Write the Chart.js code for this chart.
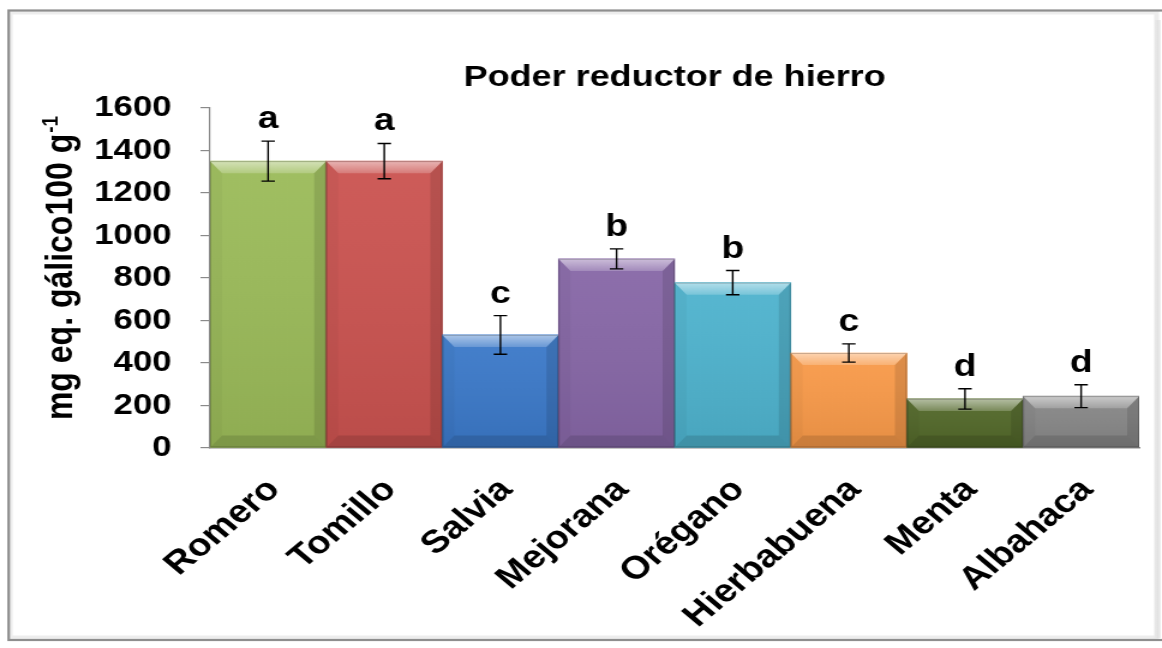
<!DOCTYPE html>
<html>
<head>
<meta charset="utf-8">
<script src="https://cdn.jsdelivr.net/npm/chart.js@4.4.1/dist/chart.umd.min.js"></script>
<style>
html,body{margin:0;padding:0;background:#fff;overflow:hidden;}
#wrap{width:968px;height:648px;transform:scaleX(1.2004132);transform-origin:0 0;}
canvas{display:block;}
</style>
</head>
<body>
<div id="wrap"><canvas id="c" width="968" height="648" style="width:968px;height:648px"></canvas></div>
<script>
// ---- data ----
const categories = ['Romero', 'Tomillo', 'Salvia', 'Mejorana', 'Orégano', 'Hierbabuena', 'Menta', 'Albahaca'];
const values = [1350, 1350, 532, 890, 778, 447, 231, 244];
const errors = [94, 83, 91, 47, 57, 43, 48, 54];
const letters = ['a', 'a', 'c', 'b', 'b', 'c', 'd', 'd'];
const yMin = 0, yMax = 1600, yStep = 200;
const chartTitle = 'Poder reductor de hierro';
const yTitleMain = 'mg eq. gálico100 g';
const yTitleSup = '-1';

// ---- style ----
const SX = 1162 / 968;
const FONT = "Arial, 'Liberation Sans', Helvetica, sans-serif";
const barColors = ['#9bbb59', '#cb5350', '#3b79c9', '#8767a7', '#4eb3ce', '#f99a49', '#526829', '#878787'];
const axisColor = '#8a8a8a';

const framePlugin = {
  id: 'frame',
  beforeDraw(chart) {
    const c = chart.ctx;
    c.save();
    c.fillStyle = '#fff';
    c.fillRect(0, 0, chart.width, chart.height);
    c.strokeStyle = 'rgba(0,0,0,0.07)';
    c.lineWidth = 4;
    c.strokeRect(8.5, 12.5, 955, 625);
    c.strokeStyle = '#8e8e8e';
    c.lineWidth = 2.2;
    c.strokeRect(7.2, 10.5, 968, 629.5);
    const g = c.createLinearGradient(961, 0, 967, 0);
    g.addColorStop(0, 'rgba(0,0,0,0)');
    g.addColorStop(1, 'rgba(0,0,0,0.08)');
    c.fillStyle = g;
    c.fillRect(961, 20, 6, 618);
    c.restore();
  }
};

const barDecor = {
  id: 'barDecor',
  afterDatasetsDraw(chart) {
    const c = chart.ctx;
    const meta = chart.getDatasetMeta(0);
    const yScale = chart.scales.y;
    c.save();
    meta.data.forEach((bar, i) => {
      const p = bar.getProps(['x', 'y', 'width', 'base'], true);
      const l = p.x - p.width / 2, r = p.x + p.width / 2, t = p.y, b = p.base;
      const bv = Math.min(12, (b - t) / 2);
      const bh = bv / SX;
      const fg = c.createLinearGradient(0, t, 0, b);
      fg.addColorStop(0, 'rgba(255,255,255,0.05)');
      fg.addColorStop(1, 'rgba(0,0,0,0.08)');
      c.fillStyle = fg;
      c.fillRect(l, t, r - l, b - t);
      // top bevel
      c.beginPath();
      c.moveTo(l, t); c.lineTo(r, t); c.lineTo(r - bh, t + bv); c.lineTo(l + bh, t + bv); c.closePath();
      const tg = c.createLinearGradient(0, t, 0, t + bv);
      tg.addColorStop(0, 'rgba(255,255,255,0.55)');
      tg.addColorStop(1, 'rgba(255,255,255,0.20)');
      c.fillStyle = tg; c.fill();
      // right bevel
      c.beginPath();
      c.moveTo(r, t); c.lineTo(r, b); c.lineTo(r - bh, b - bv); c.lineTo(r - bh, t + bv); c.closePath();
      c.fillStyle = 'rgba(0,0,0,0.11)'; c.fill();
      // left bevel
      c.beginPath();
      c.moveTo(l, t); c.lineTo(l + bh, t + bv); c.lineTo(l + bh, b - bv); c.lineTo(l, b); c.closePath();
      c.fillStyle = 'rgba(0,0,0,0.03)'; c.fill();
      // bottom bevel
      c.beginPath();
      c.moveTo(l, b); c.lineTo(r, b); c.lineTo(r - bh, b - bv); c.lineTo(l + bh, b - bv); c.closePath();
      c.fillStyle = 'rgba(0,0,0,0.12)'; c.fill();
      c.strokeStyle = 'rgba(0,0,0,0.2)';
      c.lineWidth = 1;
      c.strokeRect(l + 0.5, t + 0.5, r - l - 1, b - t - 1);
    });
    c.strokeStyle = '#000';
    c.lineWidth = 1.4;
    meta.data.forEach((bar, i) => {
      const x = bar.x;
      const yt = yScale.getPixelForValue(values[i] + errors[i]);
      const yb = yScale.getPixelForValue(values[i] - errors[i]);
      const cw = 5.6;
      c.beginPath();
      c.moveTo(x, yt); c.lineTo(x, yb);
      c.moveTo(x - cw, yt); c.lineTo(x + cw, yt);
      c.moveTo(x - cw, yb); c.lineTo(x + cw, yb);
      c.stroke();
      c.fillStyle = '#000';
      c.font = 'bold 31px ' + FONT;
      c.textAlign = 'center';
      c.textBaseline = 'alphabetic';
      c.fillText(letters[i], x, yt - 13);
    });
    c.restore();
  }
};

const yTitlePlugin = {
  id: 'yTitle',
  afterDraw(chart) {
    const c = chart.ctx;
    const ca = chart.chartArea;
    c.save();
    const mainFont = 'bold 32px ' + FONT;
    const supFont = 'bold 19px ' + FONT;
    c.font = mainFont;
    const w1 = c.measureText(yTitleMain).width;
    c.font = supFont;
    const w2 = c.measureText(yTitleSup).width;
    const total = w1 + w2 + 1;
    c.translate(ca.left - 115, (ca.top + ca.bottom) / 2 - 10);
    c.rotate(-Math.PI / 2);
    c.fillStyle = '#000';
    c.textAlign = 'left';
    c.textBaseline = 'alphabetic';
    c.font = mainFont;
    c.fillText(yTitleMain, -total / 2, 0);
    c.font = supFont;
    c.fillText(yTitleSup, -total / 2 + w1 + 1, -12);
    c.restore();
  }
};

new Chart(document.getElementById('c'), {
  type: 'bar',
  data: {
    labels: categories,
    datasets: [{
      data: values,
      backgroundColor: barColors,
      borderWidth: 0,
      barPercentage: 1,
      categoryPercentage: 1
    }]
  },
  options: {
    responsive: false,
    animation: false,
    devicePixelRatio: 1,
    layout: { padding: { left: 0, right: 19, top: 0, bottom: 0 } },
    plugins: {
      legend: { display: false },
      tooltip: { enabled: false },
      title: {
        display: true,
        fullSize: false,
        text: chartTitle,
        color: '#000',
        font: { family: FONT, size: 30, weight: 'bold' },
        padding: { top: 60, bottom: 12 }
      }
    },
    scales: {
      x: {
        grid: { display: false },
        border: { color: axisColor, width: 1.5 },
        ticks: {
          autoSkip: false,
          minRotation: 45,
          maxRotation: 45,
          color: '#000',
          padding: 15,
          labelOffset: 5,
          font: { family: FONT, size: 32, weight: 'bold' }
        },
        afterFit(scale) { scale.height = 200; }
      },
      y: {
        min: yMin,
        max: yMax,
        grid: { drawOnChartArea: false, drawTicks: true, tickLength: 8, color: axisColor, lineWidth: 1.2 },
        border: { color: axisColor, width: 1.2 },
        ticks: {
          stepSize: yStep,
          color: '#000',
          padding: 24,
          font: { family: FONT, size: 29, weight: 'bold' },
          callback: (v) => String(v)
        },
        afterFit(scale) { scale.width = 175; }
      }
    }
  },
  plugins: [framePlugin, barDecor, yTitlePlugin]
});
</script>
</body>
</html>
